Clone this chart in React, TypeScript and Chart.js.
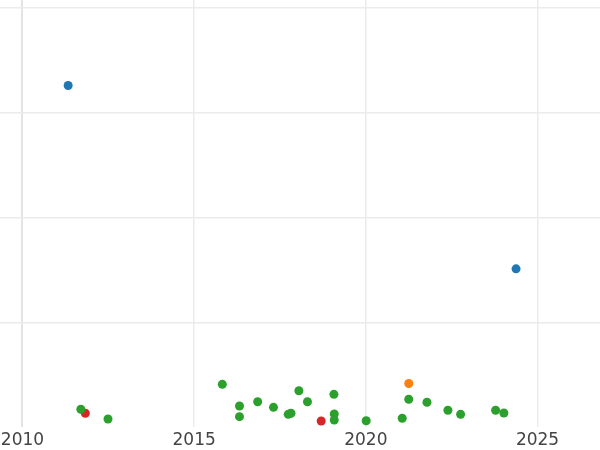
import React, { useEffect, useRef } from "react";
import { Chart, registerables } from "chart.js";

Chart.register(...registerables);

const xTicks = [2010, 2015, 2020, 2025];
const yGridValues = [20, 40, 60, 80];

const blueX = [2011.33, 2024.375];
const blueY = [65.2, 30.2];

const orangeX = [2021.25];
const orangeY = [8.3];

const greenX = [
  2011.7, 2012.49, 2015.82, 2016.32, 2016.32, 2016.85, 2017.31, 2017.74, 2017.82,
  2018.05, 2018.3, 2019.07, 2019.08, 2019.08, 2020.01, 2021.06, 2021.25, 2021.78,
  2022.39, 2022.76, 2023.78, 2024.02,
];
const greenY = [
  3.38, 1.53, 8.15, 4.01, 1.97, 4.83, 3.76, 2.42, 2.62,
  6.93, 4.83, 6.24, 2.48, 1.34, 1.2, 1.66, 5.29, 4.72,
  3.19, 2.42, 3.19, 2.67,
];

const redX = [2011.83, 2018.7];
const redY = [2.62, 1.15];

const toPoints = (xs: number[], ys: number[]) => xs.map((x, i) => ({ x, y: ys[i] }));

export default function App() {
  const ref = useRef<HTMLCanvasElement>(null);
  useEffect(() => {
    if (!ref.current) return;
    const mk = (label: string, xs: number[], ys: number[], color: string) => ({
      label,
      data: toPoints(xs, ys),
      backgroundColor: color,
      borderColor: color,
      borderWidth: 0,
      pointRadius: 4.5,
      pointHoverRadius: 4.5,
    });
    const chart = new Chart(ref.current, {
      type: "scatter",
      data: {
        datasets: [
          mk("blue", blueX, blueY, "#1f77b4"),
          mk("orange", orangeX, orangeY, "#ff7f0e"),
          mk("green", greenX, greenY, "#2ca02c"),
          mk("red", redX, redY, "#d62728"),
        ],
      },
      options: {
        responsive: false,
        animation: false,
        layout: { padding: 0, autoPadding: false },
        plugins: { legend: { display: false }, tooltip: { enabled: false } },
        scales: {
          x: {
            type: "linear",
            min: 2009.345,
            max: 2026.82,
            afterBuildTicks: (s: any) => {
              s.ticks = xTicks.map((v) => ({ value: v }));
            },
            afterFit: (s: any) => {
              s.height = 23;
              s.paddingLeft = 0;
              s.paddingRight = 0;
            },
            border: { display: false },
            grid: {
              color: (c: any) => (c.tick && c.tick.value === 2010 ? "#e4e4e4" : "#ebebeb"),
              lineWidth: (c: any) => (c.tick && c.tick.value === 2010 ? 2 : 1.5),
              drawTicks: false,
            },
            ticks: {
              padding: 3,
              color: "#444444",
              font: { family: "DejaVu Sans", size: 17 },
              maxRotation: 0,
              callback: (v: any) => String(v),
            },
          },
          y: {
            type: "linear",
            min: 0,
            max: 81.53,
            afterBuildTicks: (s: any) => {
              s.ticks = yGridValues.map((v) => ({ value: v }));
            },
            afterFit: (s: any) => {
              s.width = 0;
              s.paddingTop = 0;
              s.paddingBottom = 0;
            },
            border: { display: false },
            grid: { color: "#ebebeb", lineWidth: 1.5, drawTicks: false },
            ticks: { display: false },
          },
        },
      },
    });
    return () => chart.destroy();
  }, []);
  return (
    <div style={{ position: "fixed", left: 0, top: 0, width: 600, height: 450, background: "#fff" }}>
      <canvas ref={ref} width={600} height={450} style={{ display: "block" }} />
    </div>
  );
}
